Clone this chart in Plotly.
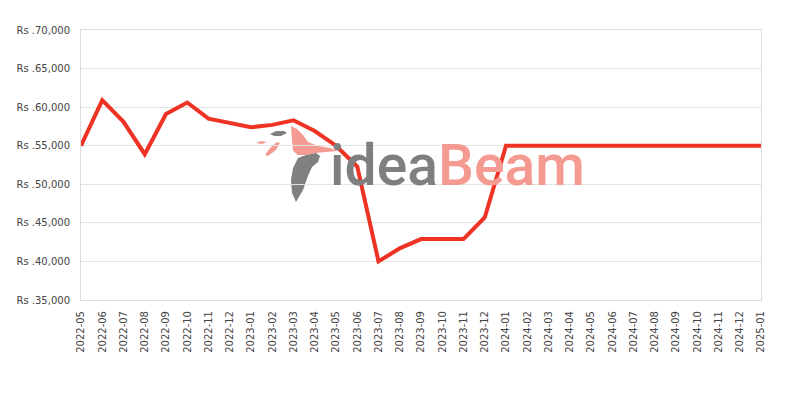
import plotly.graph_objects as go

months = ["2022-05", "2022-06", "2022-07", "2022-08", "2022-09", "2022-10", "2022-11", "2022-12",
          "2023-01", "2023-02", "2023-03", "2023-04", "2023-05", "2023-06", "2023-07", "2023-08",
          "2023-09", "2023-10", "2023-11", "2023-12", "2024-01", "2024-02", "2024-03", "2024-04",
          "2024-05", "2024-06", "2024-07", "2024-08", "2024-09", "2024-10", "2024-11", "2024-12",
          "2025-01"]
prices = [55000, 60900, 58100, 53900, 59100, 60600, 58500, 58000,
          57400, 57700, 58300, 56900, 55000, 52300, 40000, 41700,
          42900, 42900, 42900, 45700, 55000, 55000, 55000, 55000,
          55000, 55000, 55000, 55000, 55000, 55000, 55000, 55000,
          55000]
y_ticks = [35000, 40000, 45000, 50000, 55000, 60000, 65000, 70000]
y_tick_labels = ["Rs .{:,}".format(v) for v in y_ticks]

W, H = 800, 400
ML, MR, MT, MB = 81, 39, 30, 100
PW, PH = W - ML - MR, H - MT - MB


def to_paper(px, py):
    return (px - ML) / PW, (H - MB - py) / PH


def path_from(points):
    pts = [to_paper(x, y) for x, y in points]
    s = "M {:.4f} {:.4f} ".format(*pts[0])
    s += " ".join("L {:.4f} {:.4f}".format(x, y) for x, y in pts[1:])
    return s + " Z"


fig = go.Figure()

# watermark logo (approximation)
logo_shapes = [
    ("#f59a91", [(291, 126), (297, 129), (303, 135), (308, 142), (318, 146), (330, 148), (338, 151),
                 (326, 152), (316, 153), (306, 155), (298, 155), (293, 151), (292, 140)]),
    ("#808080", [(298, 158), (306, 155), (316, 153), (320, 156), (318, 162), (312, 167), (308, 176),
                 (303, 190), (296, 202), (292, 193), (291, 180), (293, 168)]),
    ("#808080", [(270, 134), (276, 131), (284, 131), (287, 133), (281, 136), (274, 136)]),
    ("#f59a91", [(256, 143), (261, 141), (267, 142), (262, 144)]),
    ("#f59a91", [(265, 155), (270, 148), (277, 142), (280, 143), (276, 150), (268, 156)]),
]
for col, pts in logo_shapes:
    fig.add_shape(type="path", xref="paper", yref="paper", layer="below",
                  path=path_from(pts), fillcolor=col, line=dict(width=0))

lx, ly = to_paper(457, 165)
fig.add_annotation(xref="paper", yref="paper", x=lx, y=ly, xanchor="center", yanchor="middle",
                   text="<span style='color:#7f7f7f'>idea</span><span style='color:#f59a91'>Beam</span>",
                   showarrow=False, font=dict(family="Roboto", size=57, weight=500))

fig.add_trace(go.Scatter(x=months, y=prices, mode="lines",
                         line=dict(color="#ee3224", width=4), hoverinfo="x+y"))

fig.update_layout(
    width=W, height=H,
    margin=dict(l=ML, r=MR, t=MT, b=MB),
    paper_bgcolor="white", plot_bgcolor="white",
    showlegend=False,
    font=dict(family="DejaVu Sans", size=10, color="#444444"),
)
fig.update_xaxes(type="category", range=[0, len(months) - 1], tickangle=-90, automargin=False,
                 showgrid=False, showline=True, linecolor="#dddddd", linewidth=1, mirror=True,
                 ticks="", ticklabelstandoff=6, tickfont=dict(size=10, color="#444444"))
fig.update_yaxes(range=[35000, 70000], tickvals=y_ticks, ticktext=y_tick_labels, automargin=False,
                 showgrid=True, gridcolor="#e3e3e3", gridwidth=1,
                 showline=True, linecolor="#dddddd", linewidth=1, mirror=True,
                 zeroline=False, ticks="", ticklabelstandoff=8,
                 tickfont=dict(size=10, color="#444444"))

fig.write_html("out.html", config={"displayModeBar": False},
               post_script="document.body.style.margin='0';")
